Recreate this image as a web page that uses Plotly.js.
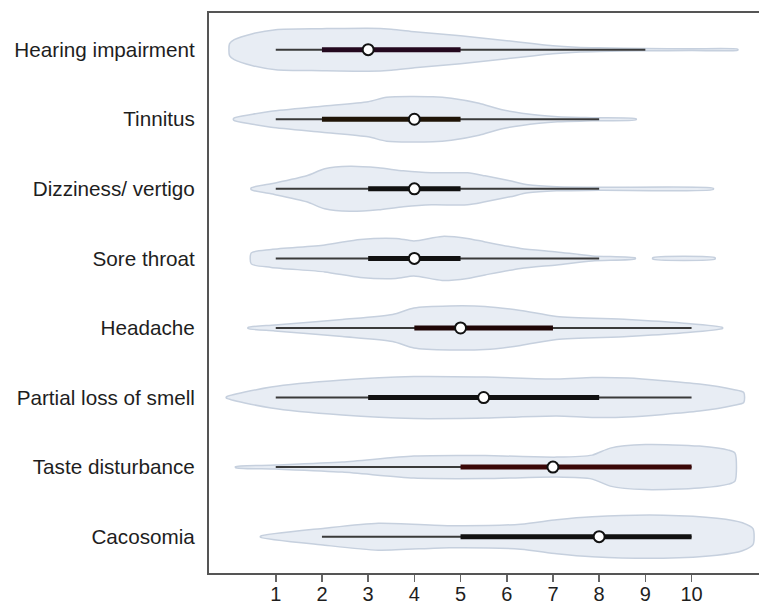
<!DOCTYPE html>
<html>
<head>
<meta charset="utf-8">
<script src="https://cdn.plot.ly/plotly-3.0.1.min.js"></script>
<style>html,body{margin:0;padding:0;background:#fff;}#chart{width:759px;height:605px;}</style>
</head>
<body>
<div id="chart"></div>
<script>
// Categories (top to bottom)
var categories = ["Hearing impairment", "Tinnitus", "Dizziness/ vertigo", "Sore throat",
                  "Headache", "Partial loss of smell", "Taste disturbance", "Cacosomia"];
// Box statistics
var whiskerMin = [1, 1, 1, 1, 1, 1, 1, 2];
var q1Values   = [2, 2, 3, 3, 4, 3, 5, 5];
var medians    = [3, 4, 4, 4, 5, 5.5, 7, 8];
var q3Values   = [5, 5, 5, 5, 7, 8, 10, 10];
var whiskerMax = [9, 8, 8, 8, 10, 10, 10, 10];
var xTicks = [1, 2, 3, 4, 5, 6, 7, 8, 9, 10];

// Violin density profiles (x positions and relative half-widths)
var hearingX = [0.0, 0.1, 0.5, 1.0, 2.0, 3.0, 3.5, 4.0, 4.5, 5.0, 5.5, 6.0, 6.5, 7.0, 7.5, 8.0, 9.0, 10.0, 11.0];
var hearingW = [6, 10, 16, 20, 21, 21.5, 20.5, 18, 16, 14, 11.5, 9, 6.5, 4, 2.5, 1.8, 1.2, 0.9, 0.5];
var tinnitusX = [0.09, 0.5, 0.9, 2.0, 3.0, 3.4, 4.4, 4.8, 5.4, 5.9, 6.7, 7.1, 7.85, 8.8];
var tinnitusW = [1, 5, 8, 13, 17.5, 22, 22.5, 21, 16, 9.5, 4, 2.5, 1.5, 0.5];
var dizzinessX = [0.47, 0.9, 1.67, 2.06, 2.6, 3.22, 3.76, 4.37, 5.15, 5.53, 6.07, 6.46, 7.08, 8.0, 10.47];
var dizzinessW = [1, 5, 13, 20, 22.5, 21, 18, 16, 16, 13, 8, 4, 2, 1.5, 0.6];
var soreX = [0.47, 0.9, 2.06, 2.83, 3.6, 3.99, 4.6, 5.15, 5.53, 6.3, 7.08, 7.85, 8.78];
var soreW = [5.5, 9, 13.5, 19, 20, 17.5, 22, 20, 16.5, 10, 6.5, 2.5, 0.5];
var soreTailX = [9.16, 10.51];
var soreTailW = [0.7, 0.7];
var headacheX = [0.4, 0.98, 2.44, 3.53, 3.99, 4.76, 5.53, 6.3, 7.08, 8.62, 9.78, 10.67];
var headacheW = [0.5, 3, 8.5, 13.5, 20, 22, 21.5, 17.5, 11.5, 8.5, 5, 0.5];
var smellX = [-0.07, 0.9, 2.44, 3.99, 5.53, 7.08, 7.85, 8.62, 10.17, 10.9, 11.13];
var smellW = [0.5, 10.5, 17.5, 21, 20.5, 18.5, 20, 19.5, 13.5, 8, 5];
var tasteX = [0.13, 1.0, 2.44, 3.99, 5.53, 7.08, 7.85, 8.24, 9.0, 10.17, 10.8, 10.94];
var tasteW = [0.5, 2, 5, 11, 11.5, 10, 12, 19, 22.5, 21, 17, 14];
var cacosomiaX = [0.67, 2.06, 3.22, 4.76, 6.3, 7.08, 7.85, 9.39, 10.55, 11.1, 11.33];
var cacosomiaW = [0.5, 8.5, 13.5, 11, 12.5, 17, 20, 21.5, 18.5, 14, 8];

var profiles = [
  [[hearingX, hearingW]],
  [[tinnitusX, tinnitusW]],
  [[dizzinessX, dizzinessW]],
  [[soreX, soreW], [soreTailX, soreTailW]],
  [[headacheX, headacheW]],
  [[smellX, smellW]],
  [[tasteX, tasteW]],
  [[cacosomiaX, cacosomiaW]]
];
var iqrColors = ["#24091f", "#1f1407", "#111111", "#111111", "#1f0606", "#111111", "#3a0707", "#111111"];

var widthScale = 1 / 69.57;
var traces = [];
profiles.forEach(function (segs, i) {
  segs.forEach(function (seg) {
    var xs = seg[0], ws = seg[1];
    var px = [], py = [];
    for (var k = 0; k < xs.length; k++) { px.push(xs[k]); py.push(i - ws[k] * widthScale); }
    for (var k = xs.length - 1; k >= 0; k--) { px.push(xs[k]); py.push(i + ws[k] * widthScale); }
    px.push(xs[0]); py.push(i - ws[0] * widthScale);
    traces.push({
      type: "scatter", mode: "lines", x: px, y: py, fill: "toself",
      fillcolor: "#e8edf4", line: {color: "#c6d0de", width: 1.5, shape: "spline", smoothing: 0.7},
      hoverinfo: "skip", showlegend: false
    });
  });
});
categories.forEach(function (c, i) {
  traces.push({
    type: "scatter", mode: "lines", x: [whiskerMin[i], whiskerMax[i]], y: [i, i],
    line: {color: "#3a3a3a", width: 2}, showlegend: false, hoverinfo: "skip"
  });
});
categories.forEach(function (c, i) {
  traces.push({
    type: "scatter", mode: "lines", x: [q1Values[i], q3Values[i]], y: [i, i],
    line: {color: iqrColors[i], width: 5}, showlegend: false, hoverinfo: "skip"
  });
});
traces.push({
  type: "scatter", mode: "markers", x: medians, y: categories.map(function (c, i) { return i; }),
  marker: {color: "#ffffff", size: 11, line: {color: "#111111", width: 2}},
  showlegend: false, hoverinfo: "skip"
});

var layout = {
  width: 759, height: 605,
  margin: {l: 209, r: 0, t: 13, b: 32},
  paper_bgcolor: "#ffffff", plot_bgcolor: "#ffffff",
  showlegend: false,
  font: {family: "Liberation Sans, Arial, sans-serif", color: "#222222", size: 20},
  xaxis: {
    range: [-0.445, 11.46], tickvals: xTicks, ticktext: xTicks.map(String),
    ticks: "outside", ticklen: 7, tickwidth: 1.5, tickcolor: "#666666",
    showline: true, linecolor: "#555555", linewidth: 2, mirror: true,
    showgrid: false, zeroline: false,
    tickfont: {size: 20, color: "#1e1e1e"}, ticklabelstandoff: -5
  },
  yaxis: {
    range: [7.522, -0.527], tickvals: categories.map(function (c, i) { return i; }),
    ticktext: categories, ticks: "", showline: true, linecolor: "#555555", linewidth: 2,
    showgrid: false, zeroline: false, ticklabelstandoff: 8,
    tickfont: {size: 20.7, color: "#1e1e1e"}
  }
};
Plotly.newPlot("chart", traces, layout, {displayModeBar: false, staticPlot: true});
</script>
</body>
</html>
